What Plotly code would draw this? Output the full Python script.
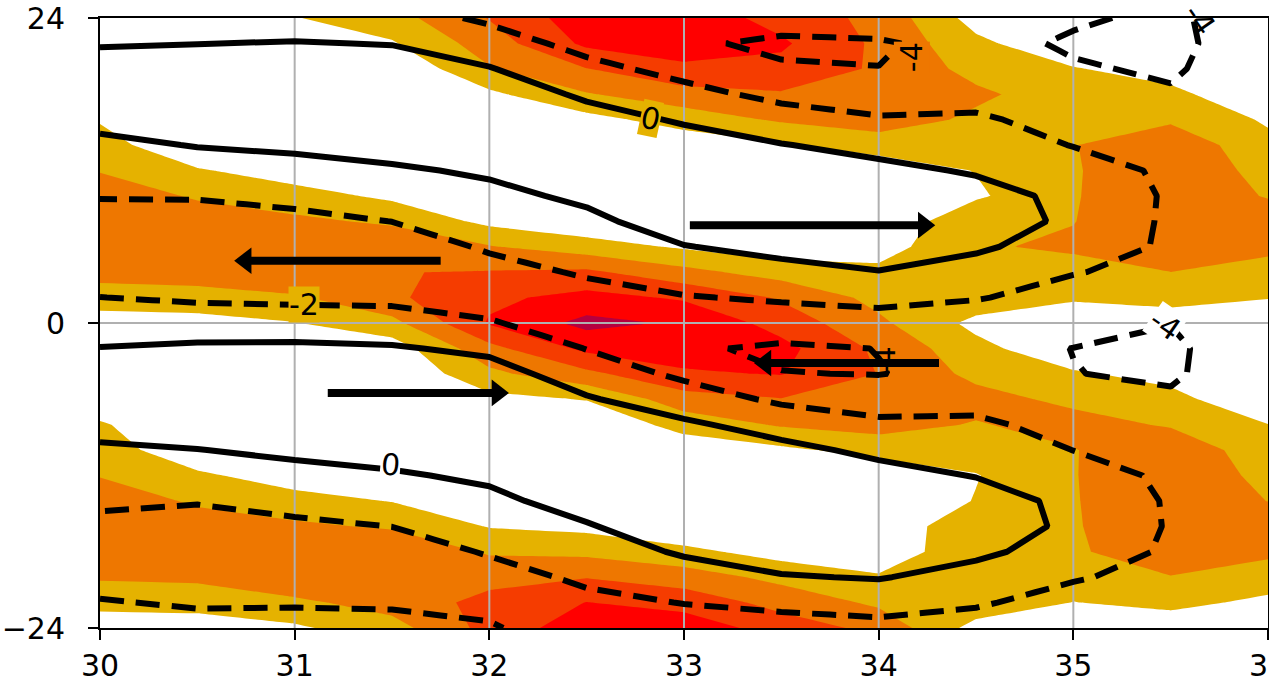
import plotly.graph_objects as go

# ---------------- data ----------------
x_vals = [30, 30.5, 31, 31.5, 32, 32.5, 33, 33.5, 34, 34.5, 35, 35.5, 36]
# rows from top (y=24) to bottom (y=-24)
y_vals = [24, 22, 20, 18, 16, 14, 12, 10, 8, 6, 4, 2, 0,
          -2, -4, -6, -8, -10, -12, -14, -16, -18, -20, -22, -24]

x_ticks = [30, 31, 32, 33, 34, 35, 36]
y_ticks = [-24, 0, 24]

# shaded field, one list per x column (top -> bottom)
shade_by_x = [
    [0.4, 0.1, 0.1, 0.1, 0.91, 1.44, 1.92, 2.84, 2.95, 2.95, 2.39, 1.48, 0.56, 0.1, 0.1, 0.29, 1.12, 1.52, 1.93, 2.84, 2.95, 2.95, 2.11, 1.32, 0.4],
    [0.48, 0.1, 0.1, 0.1, 0.1, 0.12, 1.1, 1.83, 2.78, 2.95, 2.51, 1.57, 0.64, 0.1, 0.1, 0.1, 0.1, 0.28, 1.18, 1.79, 2.66, 2.95, 2.19, 1.38, 0.48],
    [0.95, 0.1, 0.1, 0.1, 0.1, 0.1, 0.5, 1.39, 2.22, 2.95, 2.87, 1.87, 0.96, 0.1, 0.1, 0.1, 0.1, 0.1, 0.5, 1.38, 2.18, 2.95, 2.79, 1.79, 0.84],
    [1.61, 0.9, 0.1, 0.1, 0.1, 0.1, 0.1, 0.8, 1.82, 2.83, 2.97, 2.82, 1.71, 0.46, 0.1, 0.1, 0.1, 0.1, 0.1, 0.96, 1.87, 2.87, 2.95, 2.42, 1.61],
    [3.05, 2.5, 1.92, 0.79, 0.1, 0.1, 0.1, 0.1, 0.74, 2.07, 3.06, 3.79, 4.1, 2.7, 1.76, 0.71, 0.1, 0.1, 0.1, 0.1, 0.94, 1.88, 2.69, 3.3, 3.35],
    [4.6, 4.21, 2.97, 1.93, 0.65, 0.1, 0.1, 0.1, 0.26, 1.45, 3.21, 4.32, 5.3, 4.24, 2.75, 1.05, 0.1, 0.1, 0.1, 0.1, 0.74, 1.75, 2.96, 4.02, 4.6],
    [4.6, 4.29, 3.89, 2.58, 1.46, 0.32, 0.1, 0.1, 0.1, 0.87, 2.3, 3.87, 4.87, 4.42, 3.89, 2.55, 1.42, 0.32, 0.1, 0.1, 0.18, 1.27, 2.49, 3.63, 4.6],
    [3.65, 4.15, 3.72, 2.9, 2.13, 0.88, 0.1, 0.1, 0.1, 0.39, 1.57, 2.88, 3.6, 4.3, 4.05, 2.96, 2.11, 0.8, 0.1, 0.1, 0.1, 0.59, 1.72, 2.65, 3.55],
    [2.7, 2.8, 2.85, 2.75, 2.53, 1.45, 0.38, 0.1, 0.1, 0.55, 1.25, 1.69, 2.2, 2.8, 2.97, 2.9, 2.41, 1.35, 0.3, 0.1, 0.1, 0.19, 1.14, 1.81, 2.72],
    [0.6, 1.25, 1.67, 2.2, 1.8, 1.42, 1.04, 0.84, 1.86, 1.9, 1.9, 1.66, 0.72, 1.31, 1.73, 2.37, 1.92, 1.48, 0.95, 1.05, 1.9, 1.9, 1.9, 1.66, 0.64],
    [0.1, 0.18, 1.07, 1.44, 1.81, 1.96, 1.9, 1.92, 1.97, 2.15, 1.63, 1.14, 0.28, 0.22, 1.14, 1.75, 2.4, 1.95, 1.95, 1.93, 1.9, 1.8, 1.45, 0.98, 0.1],
    [0.4, 0.1, 0.51, 1.29, 1.84, 2.72, 2.9, 2.9, 2.9, 2.9, 1.99, 1.33, 0.48, 0.1, 0.63, 1.35, 1.89, 2.8, 2.9, 2.9, 2.9, 2.9, 1.94, 1.27, 0.4],
    [0.1, 0.1, 0.1, 0.1, 0.87, 1.28, 1.59, 1.91, 2.74, 2.25, 1.59, 1.05, 0.1, 0.1, 0.1, 0.1, 1.02, 1.34, 1.66, 1.98, 2.9, 2.21, 1.5, 0.78, 0.1],
]

# contoured (line) field, one list per x column (top -> bottom)
line_by_x = [
    [-1.0, -0.15, 0.83, 1.5, 0.49, -0.39, -1.13, -1.88, -2.86, -3.6, -2.99, -1.98, -0.96, 0.06, 1.07, 1.5, 0.61, -0.27, -0.96, -1.65, -2.5, -3.5, -2.83, -1.85, -1.0],
    [-1.16, -0.03, 0.99, 1.5, 1.09, 0.08, -0.89, -1.85, -2.86, -3.6, -3.27, -2.26, -0.97, 0.3, 1.31, 1.5, 0.97, -0.04, -0.95, -1.86, -2.86, -3.6, -3.27, -2.26, -1.16],
    [-1.07, 0.1, 1.11, 1.5, 1.33, 0.32, -0.61, -1.51, -2.46, -3.47, -3.39, -2.38, -1.03, 0.34, 1.35, 1.5, 1.37, 0.36, -0.56, -1.42, -2.34, -3.35, -3.23, -2.22, -1.07],
    [-1.2, -0.07, 0.95, 1.5, 1.5, 0.72, -0.25, -1.12, -1.98, -2.99, -3.43, -2.42, -1.17, 0.18, 1.19, 1.5, 1.5, 0.76, -0.22, -1.1, -1.98, -2.99, -3.31, -2.3, -1.2],
    [-2.3, -1.16, 0.11, 1.13, 1.5, 1.28, 0.26, -0.48, -1.12, -1.77, -2.65, -2.9, -1.83, -0.38, 0.75, 1.5, 1.5, 1.36, 0.34, -0.46, -1.15, -1.83, -2.77, -2.7, -1.75],
    [-3.5, -2.58, -1.5, -0.31, 0.75, 1.5, 1.38, 0.36, -0.44, -1.11, -1.79, -2.7, -3.08, -2.06, -0.94, 0.17, 1.19, 1.5, 1.5, 0.8, -0.16, -0.89, -1.63, -2.5, -3.5],
    [-3.0, -3.8, -2.57, -1.45, -0.21, 0.84, 1.5, 1.5, 0.94, -0.07, -1.09, -2.1, -3.12, -3.75, -2.37, -1.04, 0.31, 1.32, 1.5, 1.5, 1.22, 0.21, -0.86, -1.94, -3.0],
    [-3.4, -4.26, -3.85, -2.47, -1.17, 0.08, 1.1, 1.5, 1.5, 0.53, -0.58, -1.79, -2.91, -4.3, -3.95, -2.33, -0.77, 0.52, 1.5, 1.5, 1.5, 0.93, -0.13, -1.58, -2.72],
    [-3.3, -4.15, -3.98, -2.92, -1.82, -0.61, 0.5, 1.5, 1.5, 0.97, -0.07, -1.48, -2.74, -3.97, -4.05, -2.84, -1.63, -0.43, 0.66, 1.5, 1.5, 1.13, 0.11, -1.29, -2.52],
    [-3.2, -3.5, -3.5, -2.67, -1.74, -0.97, -0.2, 0.76, 1.3, 0.29, -0.79, -1.9, -2.92, -3.5, -3.5, -2.59, -1.67, -0.88, -0.08, 0.92, 1.38, 0.37, -0.69, -1.77, -2.9],
    [-3.8, -4.2, -3.85, -3.26, -2.67, -2.07, -1.1, -0.5, -0.5, -0.91, -1.93, -2.59, -3.23, -4.02, -3.97, -3.22, -2.62, -2.02, -1.02, -0.5, -0.5, -0.79, -1.81, -2.82, -3.6],
    [-4.3, -4.4, -4.2, -3.85, -3.0, -2.6, -2.35, -2.25, -2.3, -2.3, -2.45, -2.8, -3.97, -4.25, -4.2, -3.8, -3.3, -2.8, -2.4, -2.2, -2.15, -2.3, -2.7, -3.3, -3.9],
    [-3.0, -3.0, -3.0, -3.1, -3.0, -2.8, -2.7, -2.6, -2.6, -2.7, -2.9, -3.2, -3.4, -3.0, -3.0, -3.2, -3.1, -2.9, -2.7, -2.6, -2.6, -2.7, -2.9, -3.2, -3.4],
]

# arrows (quiver): tail and tip positions
arrow_tail_x = [33.03, 31.75, 31.17, 34.31]
arrow_tail_y = [7.7, 4.9, -5.5, -3.15]
arrow_tip_x = [34.30, 30.68, 32.11, 33.35]

# contour labels: text, position, angle
label_text = ["0", "0", "-2", "-4", "-4", "-4", "-4"]
label_x = [32.83, 31.49, 31.05, 34.17, 35.65, 35.47, 34.03]
label_y = [16.1, -11.15, 1.45, 20.9, 23.9, -0.15, -3.05]
label_angle = [12, 5, 0, -90, 55, 35, -90]

# ---------------- build ----------------
def to_grid(cols):
    rows = [[c[i] for c in cols] for i in range(len(y_vals))]
    return rows[::-1]

y_asc = y_vals[::-1]
z_shade = to_grid(shade_by_x)
z_line = to_grid(line_by_x)

WHITE = "#ffffff"
YEL = "#E5B200"
ORA = "#EE7700"
RED_OR = "#F53C00"
RED = "#FF0000"
CRIM = "#B5003F"
colorscale = [
    [0.0, WHITE], [0.1, WHITE],
    [0.1, YEL], [0.3, YEL],
    [0.3, ORA], [0.5, ORA],
    [0.5, RED_OR], [0.7, RED_OR],
    [0.7, RED], [0.9, RED],
    [0.9, CRIM], [1.0, CRIM],
]
label_bg = [YEL, WHITE, YEL, ORA, None, WHITE, None]

FONT = "DejaVu Sans"
fig = go.Figure()

fig.add_trace(go.Contour(
    x=x_vals, y=y_asc, z=z_shade,
    autocontour=False,
    contours=dict(start=1, end=5, size=1, coloring="fill", showlines=False),
    colorscale=colorscale, showscale=False,
    line=dict(width=0, smoothing=0),
    hoverinfo="skip",
))

# grid lines above the shading
gx, gy = [], []
for t in x_ticks[1:-1]:
    gx += [t, t, None]
    gy += [y_ticks[0], y_ticks[-1], None]
for t in y_ticks[1:-1]:
    gx += [x_ticks[0], x_ticks[-1], None]
    gy += [t, t, None]
fig.add_trace(go.Scatter(x=gx, y=gy, mode="lines",
                         line=dict(color="#b0b0b0", width=2),
                         hoverinfo="skip", showlegend=False))

fig.add_trace(go.Contour(
    x=x_vals, y=y_asc, z=z_line,
    autocontour=False,
    contours=dict(start=0, end=0.5, size=1, coloring="none", showlabels=False),
    line=dict(color="black", width=6, smoothing=0),
    showscale=False, hoverinfo="skip",
    xaxis="x2", yaxis="y2",
))
fig.add_trace(go.Contour(
    x=x_vals, y=y_asc, z=z_line,
    autocontour=False,
    contours=dict(start=-4, end=-2, size=2, coloring="none", showlabels=False),
    line=dict(color="black", width=6, smoothing=0, dash="24px,12px"),
    showscale=False, hoverinfo="skip",
    xaxis="x2", yaxis="y2",
))

# contour labels (drawn before arrows so the arrow shaft can pass over)
for t, lx, ly, la, bg in zip(label_text, label_x, label_y, label_angle, label_bg):
    fig.add_annotation(
        x=lx, y=ly, xref="x2", yref="y2", text=t, showarrow=False,
        textangle=la, font=dict(family=FONT, size=30, color="black"),
        bgcolor=bg if bg else "rgba(0,0,0,0)", borderpad=0,
        xanchor="center", yanchor="middle",
    )

# arrows
px_per_x = 1168 / 6.0
head_r = 11.5
for tx, ty, hx in zip(arrow_tail_x, arrow_tail_y, arrow_tip_x):
    d = 1 if hx > tx else -1
    cx = hx - d * 1.155 * head_r / px_per_x
    fig.add_trace(go.Scatter(
        x=[tx, cx], y=[ty, ty], mode="lines",
        line=dict(color="black", width=8),
        hoverinfo="skip", showlegend=False, xaxis="x2", yaxis="y2"))
    fig.add_trace(go.Scatter(
        x=[cx], y=[ty], mode="markers",
        marker=dict(symbol="triangle-right" if d > 0 else "triangle-left",
                    size=2 * head_r, color="black", line=dict(width=0)),
        hoverinfo="skip", showlegend=False, xaxis="x2", yaxis="y2"))

axis_common = dict(
    showline=True, linecolor="black", linewidth=2, mirror=True,
    ticks="outside", ticklen=10, tickwidth=2, tickcolor="black",
    showgrid=False, zeroline=False,
    tickfont=dict(family=FONT, size=30, color="black"),
    automargin=False, ticklabeloverflow="allow",
)
fig.update_layout(
    width=1269, height=685,
    margin=dict(l=100, r=1, t=18, b=57),
    paper_bgcolor="white", plot_bgcolor="white",
    showlegend=False,
    xaxis=dict(range=[30, 36], tickvals=x_ticks, ticklabelstandoff=0, **axis_common),
    yaxis=dict(range=[-24, 24], tickvals=y_ticks, ticklabelstandoff=17, **axis_common),
    xaxis2=dict(range=[30, 36], overlaying="x", visible=False),
    yaxis2=dict(range=[-24, 24], overlaying="y", visible=False),
)

fig.write_html("out.html")
